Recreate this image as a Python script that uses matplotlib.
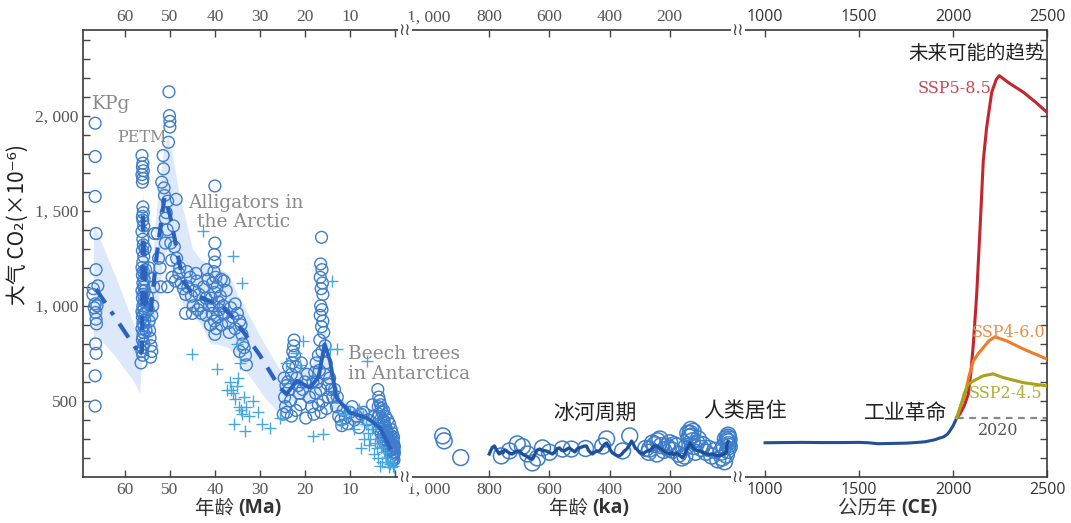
import matplotlib
matplotlib.use('Agg')
import matplotlib.pyplot as plt
from matplotlib.ticker import FuncFormatter

plt.rcParams['font.family'] = ['Noto Sans CJK SC', 'DejaVu Sans']

# ---- deep time proxies (age in Ma, CO2 in ppm) ----
kpg_pts = [(66.6, 1960), (66.6, 1785), (66.6, 1575), (66.4, 1380), (66.4, 1190), (66.0, 1105),
           (67.0, 1090), (66.6, 1010), (66.8, 990), (66.5, 965), (66.4, 930), (66.3, 905),
           (66.5, 800), (66.4, 750), (66.6, 632), (66.6, 473), (67.1, 1060), (66.2, 1000)]
petm_pts = [(56.2, 1790), (56.0, 1750), (56.1, 1730), (55.9, 1710), (56.2, 1690), (56.0, 1670),
            (56.1, 1650), (56.0, 1520), (55.9, 1490), (56.1, 1470), (56.0, 1450), (55.8, 1420),
            (56.2, 1390), (56.0, 1350), (55.9, 1320), (56.1, 1290), (55.8, 1260), (56.0, 1230),
            (56.2, 1200), (55.9, 1180), (56.1, 1160), (55.7, 1140), (56.0, 1120), (55.8, 1100),
            (56.2, 1080), (55.9, 1060), (56.1, 1040), (55.7, 1020), (56.0, 1000), (55.8, 985),
            (56.2, 970), (55.9, 955), (56.1, 940), (55.6, 925), (56.0, 910), (55.8, 895),
            (56.2, 880), (55.9, 860), (56.0, 840), (56.1, 820), (55.8, 800), (56.0, 780),
            (56.2, 760), (56.0, 740), (56.4, 700), (55.5, 1300), (55.4, 1190), (55.6, 1080),
            (55.5, 960), (55.3, 870), (55.0, 1050), (54.8, 980), (54.6, 920), (54.5, 870),
            (54.4, 830), (54.2, 790), (54.0, 760), (54.3, 730), (53.8, 1000), (54.0, 950),
            (54.7, 1200), (53.6, 1100), (53.4, 1380)]
eeco_pts = [(52.8, 1380), (52.5, 1250), (52.2, 1200), (51.5, 1790), (51.4, 1720), (51.3, 1620),
            (51.2, 1580), (51.0, 1460), (50.8, 1490), (50.2, 2125), (50.1, 2000), (50.0, 1970),
            (50.0, 1940), (50.3, 1860), (48.6, 1560), (50.5, 1550), (49.8, 1330), (49.6, 1240),
            (49.0, 1310), (48.5, 1250), (48.0, 1170), (51.0, 1330), (52.0, 1100), (50.5, 1100),
            (49.5, 1150), (48.8, 1130), (47.8, 1200), (51.8, 1650), (50.6, 1400), (49.2, 1420)]
eocene_pts = [(47.5, 1120), (47.0, 1090), (46.5, 1060), (46.0, 1100), (45.5, 1150), (45.2, 1050),
              (44.8, 1000), (44.5, 1080), (44.0, 1130), (43.5, 1060), (43.2, 1000), (43.0, 960),
              (42.5, 1100), (42.0, 1040), (42.0, 950), (46.5, 960), (45.0, 960), (41.5, 1140),
              (41.2, 1000), (44.2, 1170), (40.0, 1630), (40.0, 1330), (40.1, 1270), (40.0, 1230),
              (40.2, 1180), (39.8, 1150), (40.5, 1120), (39.5, 1100), (40.0, 1070), (40.8, 1040),
              (39.2, 1020), (40.3, 1000), (39.0, 980), (40.6, 960), (39.5, 940), (40.1, 920),
              (41.0, 900), (38.5, 900), (39.7, 880), (40.0, 850), (38.8, 1050), (38.2, 1000),
              (37.8, 960), (37.5, 1080), (38.0, 1130), (36.5, 990), (36.0, 940), (35.5, 1010),
              (35.0, 960), (34.5, 920), (34.2, 900), (34.0, 850), (33.8, 800), (33.5, 780),
              (33.2, 740), (33.0, 690), (34.5, 760), (35.5, 880), (36.8, 860), (37.0, 910),
              (43.8, 980), (46.2, 1180), (41.8, 1190), (38.6, 1140)]
miocene_pts = [(24.5, 520), (24.3, 470), (24.0, 440), (23.8, 600), (23.5, 560), (23.2, 500),
               (23.0, 640), (22.8, 700), (22.7, 760), (22.5, 790), (22.3, 740), (22.0, 680),
               (21.8, 620), (21.5, 580), (21.2, 540), (24.8, 430), (23.0, 420), (22.0, 450),
               (21.0, 480), (20.5, 560), (20.0, 600), (19.5, 640), (19.0, 520), (18.5, 470),
               (18.0, 430), (20.8, 700), (22.4, 820), (19.8, 410), (23.6, 680), (24.6, 620),
               (24.2, 580), (16.3, 1360), (16.5, 1220), (16.2, 1190), (16.6, 1150), (16.1, 1120),
               (16.4, 1090), (16.0, 1060), (16.5, 1000), (16.2, 980), (16.6, 950), (16.0, 920),
               (16.3, 890), (15.8, 860), (16.7, 820), (15.5, 790), (16.2, 760), (17.0, 740),
               (17.5, 700), (15.3, 700), (16.8, 660), (15.6, 640), (17.2, 600), (15.0, 590),
               (16.5, 560), (17.6, 540), (14.8, 520), (16.0, 500), (17.0, 480), (15.2, 460),
               (16.4, 440), (14.5, 620), (14.2, 560), (13.8, 520), (17.8, 650), (18.2, 600),
               (13.0, 470), (12.5, 420), (12.0, 400), (11.5, 450), (11.0, 410), (10.5, 380),
               (10.0, 440), (9.5, 470), (9.0, 400), (8.5, 420), (8.0, 360), (7.5, 430),
               (12.8, 520), (13.4, 560), (11.8, 370), (7.0, 440), (6.0, 400), (5.0, 480), (4.5, 420)]
plio_pts = [(3.8, 560), (3.6, 520), (3.4, 500), (3.2, 480), (3.0, 460), (2.8, 440), (3.5, 430),
            (3.0, 410), (2.6, 400), (2.4, 390), (3.3, 380), (2.2, 370), (2.0, 360), (2.8, 350),
            (1.8, 340), (1.6, 330), (2.5, 320), (1.4, 310), (1.2, 300), (2.0, 295), (1.0, 290),
            (0.8, 280), (1.5, 275), (0.6, 270), (0.4, 260), (1.1, 255), (0.3, 250), (0.9, 240),
            (0.5, 230), (0.2, 220), (0.7, 210), (0.4, 200), (0.2, 190), (0.6, 185), (1.3, 240),
            (1.7, 260), (2.3, 280), (2.7, 300), (3.1, 330), (3.5, 350), (1.0, 320), (0.5, 300),
            (0.3, 280), (0.1, 260), (0.8, 350), (1.2, 380), (1.6, 400), (2.1, 420), (2.5, 450),
            (0.1, 230), (0.3, 310), (0.6, 330), (3.7, 470), (3.9, 410)]
cross_pts = [(42.7, 1395), (36.0, 1263), (45.1, 747), (39.6, 668), (34.0, 1120), (35.1, 800),
             (34.4, 700), (36.5, 560), (36.0, 540), (35.5, 510), (35.0, 580), (34.7, 470),
             (34.3, 450), (34.0, 430), (33.6, 520), (33.0, 470), (32.5, 420), (31.5, 500),
             (30.5, 440), (29.5, 380), (35.8, 380), (33.4, 340), (27.8, 358), (25.6, 412),
             (36.6, 600), (37.2, 560), (34.8, 620), (20.4, 816), (18.2, 316), (16.0, 326),
             (14.4, 774), (12.9, 774), (14.0, 1131), (6.2, 710), (22.0, 750), (24.3, 700),
             (21.0, 690), (8.0, 460), (7.0, 420), (6.5, 380), (6.0, 330), (5.5, 300), (5.0, 350),
             (4.5, 280), (4.0, 250), (3.5, 300), (3.0, 260), (2.5, 230), (2.0, 200), (1.5, 180),
             (1.0, 170), (0.5, 160), (3.8, 200), (4.2, 380), (5.8, 270), (6.8, 300), (4.6, 220),
             (2.8, 180), (1.2, 150), (0.2, 150), (7.5, 250), (3.3, 160), (9.0, 350), (10.0, 440),
             (11.0, 430), (12.0, 380)]

# smoothed trend and its uncertainty band
trend_kpg = [(66.4, 1088), (56.7, 746)]
trend_paleo = [(56.7, 746), (56.2, 760), (56.0, 1500), (55.3, 1000), (54.3, 960), (53.0, 1250),
               (51.2, 1570), (50.0, 1480), (47.1, 1131), (44.9, 1063), (41.2, 1026), (38.2, 991),
               (35.9, 938), (30.0, 740), (25.6, 570), (24.1, 536)]
trend_neo = [(24.1, 536), (21.8, 605), (18.9, 570), (17.0, 623), (15.6, 798), (14.4, 710),
             (13.0, 517), (10.0, 438), (6.3, 412), (3.3, 360), (1.1, 254)]
band_age = [67.0, 66.4, 62, 58, 56.7, 56.3, 56.0, 55.3, 54.3, 53.0, 51.5, 50.5, 49.5, 48, 47, 45,
            43, 41, 39.5, 37, 35, 32, 29, 26, 24.5, 23, 21, 19, 17, 15.8, 15, 13.5, 12, 10, 7, 4,
            2, 0.5]
band_hi = [1420, 1400, 1150, 900, 800, 1400, 1600, 1250, 1100, 1500, 1800, 1900, 1800, 1600, 1500,
           1300, 1240, 1220, 1200, 1170, 1060, 930, 800, 680, 640, 660, 680, 670, 750, 880, 820,
           600, 520, 480, 450, 410, 350, 300]
band_lo = [800, 850, 730, 600, 540, 700, 900, 820, 780, 950, 1250, 1300, 1150, 1050, 1000, 950,
           900, 800, 800, 780, 720, 620, 520, 440, 430, 500, 510, 470, 520, 600, 560, 430, 400,
           380, 360, 320, 270, 220]

# ---- ice age (ka) ----
ka_circle_pts = [(955, 316), (950, 290), (895, 202), (760, 211), (707, 274), (673, 221), (657, 174),
                 (733, 237), (623, 253), (557, 247), (527, 247), (690, 260), (640, 200), (600, 230),
                 (480, 250), (410, 300), (423, 263), (333, 316), (357, 237), (257, 279), (233, 300),
                 (267, 247), (243, 221), (210, 263), (177, 263), (150, 210), (140, 330), (135, 310),
                 (130, 350), (125, 290), (120, 260), (115, 230), (105, 300), (95, 250), (80, 230),
                 (60, 210), (40, 190), (25, 200), (20, 260), (15, 300), (10, 290), (5, 270), (8, 240),
                 (12, 215), (18, 180), (280, 250), (270, 230), (250, 270), (220, 240), (200, 280),
                 (190, 240), (170, 220), (160, 200), (145, 260), (110, 280), (90, 270), (70, 250),
                 (50, 240), (30, 230), (3, 300), (7, 310), (2, 260), (240, 290), (228, 265),
                 (205, 250), (185, 270), (132, 330), (128, 315), (122, 340), (4, 285), (6, 320)]
ice_core = [(800, 221), (795, 240), (790, 255), (783, 263), (777, 245), (770, 228), (767, 221),
            (760, 232), (755, 226), (750, 240), (743, 237), (735, 228), (728, 222), (723, 221),
            (715, 230), (708, 236), (700, 237), (692, 224), (685, 215), (677, 211), (668, 200),
            (660, 198), (657, 195), (650, 215), (642, 240), (633, 247), (625, 243), (618, 238),
            (610, 237), (600, 228), (590, 221), (580, 235), (575, 248), (567, 253), (560, 241),
            (552, 237), (543, 245), (535, 253), (528, 246), (523, 240), (515, 232), (508, 248),
            (500, 253), (492, 258), (485, 262), (477, 263), (470, 240), (463, 228), (457, 221),
            (450, 230), (442, 237), (433, 237), (425, 255), (418, 270), (410, 279), (403, 262),
            (397, 240), (390, 226), (382, 218), (375, 212), (367, 211), (360, 220), (352, 235),
            (343, 247), (335, 265), (327, 289), (320, 270), (315, 252), (310, 247), (302, 232),
            (297, 226), (290, 221), (282, 230), (275, 237), (267, 237), (260, 250), (252, 263),
            (243, 263), (235, 252), (228, 247), (223, 240), (215, 232), (208, 226), (200, 221),
            (192, 228), (185, 215), (177, 226), (170, 218), (163, 208), (157, 200), (150, 220),
            (142, 250), (137, 263), (133, 279), (128, 270), (123, 255), (118, 247), (110, 240),
            (100, 237), (92, 230), (85, 226), (77, 221), (70, 218), (63, 221), (57, 221),
            (50, 215), (43, 211), (37, 213), (33, 211), (27, 215), (22, 221), (17, 221),
            (12, 230), (9, 279), (7, 285)]

# ---- common era (CE) ----
ce_year = [1000, 1100, 1200, 1300, 1400, 1500, 1550, 1600, 1650, 1700, 1750, 1800, 1850, 1900,
           1930, 1950, 1970, 1980, 1990, 2000, 2010, 2020]
ce_co2 = [280, 281, 282, 281, 281, 282, 280, 275, 276, 277, 278, 281, 285, 295, 305, 311, 325,
          338, 353, 369, 389, 412]
ssp585_year = [2020, 2037, 2060, 2081, 2095, 2108, 2126, 2144, 2161, 2179, 2206, 2230, 2246, 2300,
               2374, 2440, 2500]
ssp585_co2 = [412, 432, 475, 535, 650, 798, 1061, 1412, 1763, 1939, 2123, 2190, 2210, 2170, 2123,
              2070, 2017]
ssp460_year = [2020, 2040, 2064, 2085, 2108, 2135, 2161, 2190, 2223, 2286, 2374, 2500]
ssp460_co2 = [412, 470, 535, 630, 710, 750, 780, 815, 837, 815, 773, 720]
ssp245_year = [2020, 2040, 2060, 2081, 2108, 2161, 2214, 2266, 2374, 2500]
ssp245_co2 = [412, 470, 540, 587, 605, 632, 642, 623, 596, 579]
present_year = 2020
present_co2 = 412


def xy(pts):
    return [p[0] for p in pts], [p[1] for p in pts]


W, H = 1071, 523
fig = plt.figure(figsize=(W / 100, H / 100), dpi=100)


def box(x0, x1):
    return [x0 / W, (H - 477) / H, (x1 - x0) / W, 447 / H]


ax_ma = fig.add_axes(box(83, 403))
ax_ka = fig.add_axes(box(403, 738))
ax_ce = fig.add_axes(box(738, 1047))

spine_c = '#3a3a3a'
serif = 'Liberation Serif'
comma = FuncFormatter(lambda v, p: f'{v:,.0f}'.replace(',', ', '))
ylab = FuncFormatter(lambda v, p: f'{v:,.0f}'.replace(',', ', ') if v % 500 == 0 else '')

for ax in (ax_ma, ax_ka, ax_ce):
    ax.patch.set_visible(False)
    ax.set_ylim(100, 2450)
    for s in ax.spines.values():
        s.set_color(spine_c)
        s.set_linewidth(1.2)
    ax.tick_params(axis='both', which='both', direction='in', length=5, width=1,
                   color='#444', top=True, labeltop=True)

ax_ma.spines['right'].set_visible(False)
ax_ka.spines['left'].set_visible(False)
ax_ka.spines['right'].set_visible(False)
ax_ce.spines['left'].set_visible(False)

ax_ma.set_xlim(69.3, -1.8)
ax_ka.set_xlim(1087, -27)
ax_ce.set_xlim(856, 2500)

ax_ma.set_yticks(range(200, 2401, 100))
ax_ma.yaxis.set_major_formatter(ylab)
ax_ma.tick_params(axis='y', labelfontfamily=serif, labelsize=12.5, labelcolor='#555')
ax_ka.tick_params(axis='y', left=False, labelleft=False)
ax_ce.set_yticks(range(200, 2401, 100))
ax_ce.tick_params(axis='y', left=False, labelleft=False, right=True)

ax_ma.set_xticks([60, 50, 40, 30, 20, 10, 0], ['60', '50', '40', '30', '20', '10', ''])
ax_ma.tick_params(axis='x', labelfontfamily=serif, labelsize=12.5, labelcolor='#555')
ax_ka.set_xticks([800, 600, 400, 200])
ax_ka.set_xticks([1000], minor=True)
ax_ka.xaxis.set_major_formatter(comma)
ax_ka.xaxis.set_minor_formatter(comma)
ax_ka.tick_params(axis='x', which='both', labelfontfamily=serif, labelsize=12.5, labelcolor='#555')
ax_ka.tick_params(axis='x', which='minor', length=0)
ax_ce.set_xticks([1000, 1500, 2000, 2500])
ax_ce.tick_params(axis='x', labelfontfamily='Open Sans', labelsize=11.5, labelcolor='#333')

# deep time panel
circle_c = '#3d7dcc'
trend_c = '#2b62bd'
ax_ma.fill_between(band_age, band_lo, band_hi, color='#dde9fb', lw=0, zorder=1)
for pts in (kpg_pts, petm_pts, eeco_pts, eocene_pts, miocene_pts, plio_pts):
    x, y = xy(pts)
    ax_ma.scatter(x, y, s=72, facecolors='none', edgecolors=circle_c, linewidths=1.0, zorder=2)
x, y = xy(cross_pts)
ax_ma.scatter(x, y, s=70, marker='+', color='#45a6e0', linewidths=1.0, zorder=2)
x, y = xy(trend_kpg)
ax_ma.plot(x, y, color=trend_c, lw=3, dashes=[4, 2.5, 1, 2.5], zorder=3)
x, y = xy(trend_paleo)
ax_ma.plot(x, y, color=trend_c, lw=3, dashes=[3.5, 2.5], zorder=3)
x, y = xy(trend_neo)
ax_ma.plot(x, y, color=trend_c, lw=2.8, zorder=3)

gray = '#8a8a8a'
ann = dict(family='DejaVu Serif', fontsize=13.5, color=gray, ha='left', va='center')
ax_ma.text(67.3, 2063, 'KPg', **ann)
ax_ma.text(61.8, 1884, 'PETM', family='DejaVu Serif', fontsize=11.5, color=gray,
           ha='left', va='center')
ax_ma.text(46.0, 1542, 'Alligators in', **ann)
ax_ma.text(44.0, 1442, 'the Arctic', **ann)
ax_ma.text(10.4, 747, 'Beech trees', **ann)
ax_ma.text(10.4, 642, 'in Antarctica', **ann)

# ice age panel
x, y = xy(ka_circle_pts)
ax_ka.scatter(x, y, s=130, facecolors='none', edgecolors=circle_c, linewidths=1.1, zorder=2)
x, y = xy(ice_core)
ax_ka.plot(x, y, color='#1f4f97', lw=2.4, zorder=3)
cjk = dict(fontsize=15, color='#222', ha='center', va='center')
ax_ka.text(450, 437, '冰河周期', **cjk)
ax_ka.text(-50, 447, '人类居住', **cjk)

# common era panel
ax_ce.plot(ce_year, ce_co2, color='#234f96', lw=2.2, zorder=3)
ax_ce.plot(ssp585_year, ssp585_co2, color='#c1272d', lw=2.2, zorder=3)
ax_ce.plot(ssp460_year, ssp460_co2, color='#f27b25', lw=2.2, zorder=3)
ax_ce.plot(ssp245_year, ssp245_co2, color='#a9a21d', lw=2.2, zorder=3)
ax_ce.hlines(present_co2, present_year, 2500, colors='#888', linestyles=(0, (3, 2.5)), lw=1.6,
             zorder=2)
ax_ce.text(1750, 437, '工业革命', **cjk)
ax_ce.text(2489, 2326, '未来可能的趋势', fontsize=14, color='#222', ha='right', va='center')
ssp = dict(family='DejaVu Serif', fontsize=11.5, ha='right', va='center')
ax_ce.text(2207, 2142, 'SSP5-8.5', color='#c94452', **ssp)
ax_ce.text(2489, 858, 'SSP4-6.0', color='#f08a42', **ssp)
ax_ce.text(2473, 537, 'SSP2-4.5', color='#b3ad32', **ssp)
ax_ce.text(2239, 342, str(present_year), family='DejaVu Serif', fontsize=11.5, color='#555',
           ha='center', va='center')

# axis break marks
for px in (405, 738):
    for py in (477, 30):
        fig.text(px / W, (H - py) / H, '≀≀', ha='center', va='center', fontsize=12,
                 color='#444', family='DejaVu Sans',
                 bbox=dict(fc='white', ec='none', pad=0.6), zorder=10)

# axis titles
fig.text(18 / W, (H - 225) / H, '大气 CO₂(×10⁻⁶)', rotation=90, ha='center', va='center',
         fontsize=15, color='#222')
for split, cn, en in ((238, '年龄 ', '(Ma)'), (592, '年龄 ', '(ka)'), (901, '公历年 ', '(CE)')):
    fig.text(split / W, (H - 508) / H, cn, ha='right', va='center', fontsize=14, color='#333')
    fig.text(split / W, (H - 508) / H, en, ha='left', va='center', fontsize=14,
             fontweight='bold', color='#333', family=['Open Sans', 'DejaVu Sans'])

fig.savefig('out.png', dpi=100, facecolor='white')
